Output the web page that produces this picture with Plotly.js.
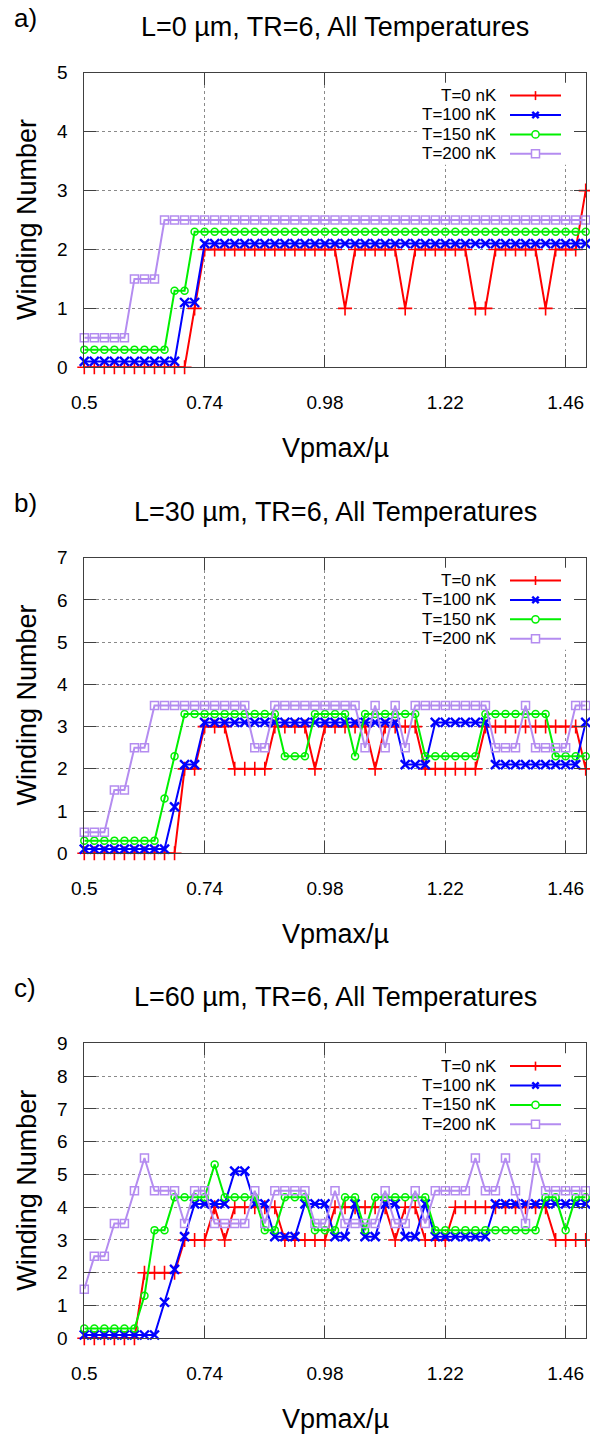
<!DOCTYPE html>
<html>
<head>
<meta charset="utf-8">
<script src="https://cdn.plot.ly/plotly-3.0.1.min.js"></script>
<style>html,body{margin:0;padding:0;background:#fff;}#chart{width:590px;height:1434px;}</style>
</head>
<body>
<div id="chart"></div>
<script>
// ---------- data ----------
const xVals = [0.50,0.52,0.54,0.56,0.58,0.60,0.62,0.64,0.66,0.68,0.70,0.72,0.74,0.76,0.78,0.80,0.82,0.84,0.86,0.88,0.90,0.92,0.94,0.96,0.98,1.00,1.02,1.04,1.06,1.08,1.10,1.12,1.14,1.16,1.18,1.20,1.22,1.24,1.26,1.28,1.30,1.32,1.34,1.36,1.38,1.40,1.42,1.44,1.46,1.48,1.50];
const seriesNames = ["T=0 nK","T=100 nK","T=150 nK","T=200 nK"];
const panelTitles = ["L=0 µm, TR=6, All Temperatures","L=30 µm, TR=6, All Temperatures","L=60 µm, TR=6, All Temperatures"];
const panelLabels = ["a)","b)","c)"];
const xTicks = [0.5,0.74,0.98,1.22,1.46];
const xTickText = ["0.5","0.74","0.98","1.22","1.46"];

// panel a (L=0)
const a_T0   = [0,0,0,0,0,0,0,0,0,0,0,1,2,2,2,2,2,2,2,2,2,2,2,2,2,2,1,2,2,2,2,2,1,2,2,2,2,2,2,1,1,2,2,2,2,2,1,2,2,2,3];
const a_T100 = [0.1,0.1,0.1,0.1,0.1,0.1,0.1,0.1,0.1,0.1,1.1,1.1,2.1,2.1,2.1,2.1,2.1,2.1,2.1,2.1,2.1,2.1,2.1,2.1,2.1,2.1,2.1,2.1,2.1,2.1,2.1,2.1,2.1,2.1,2.1,2.1,2.1,2.1,2.1,2.1,2.1,2.1,2.1,2.1,2.1,2.1,2.1,2.1,2.1,2.1,2.1];
const a_T150 = [0.3,0.3,0.3,0.3,0.3,0.3,0.3,0.3,0.3,1.3,1.3,2.3,2.3,2.3,2.3,2.3,2.3,2.3,2.3,2.3,2.3,2.3,2.3,2.3,2.3,2.3,2.3,2.3,2.3,2.3,2.3,2.3,2.3,2.3,2.3,2.3,2.3,2.3,2.3,2.3,2.3,2.3,2.3,2.3,2.3,2.3,2.3,2.3,2.3,2.3,2.3];
const a_T200 = [0.5,0.5,0.5,0.5,0.5,1.5,1.5,1.5,2.5,2.5,2.5,2.5,2.5,2.5,2.5,2.5,2.5,2.5,2.5,2.5,2.5,2.5,2.5,2.5,2.5,2.5,2.5,2.5,2.5,2.5,2.5,2.5,2.5,2.5,2.5,2.5,2.5,2.5,2.5,2.5,2.5,2.5,2.5,2.5,2.5,2.5,2.5,2.5,2.5,2.5,2.5];

// panel b (L=30)
const b_T0   = [0,0,0,0,0,0,0,0,0,0,2,2,3,3,3,2,2,2,2,3,3,3,3,2,3,3,3,3,3,2,3,3,3,3,2,2,2,2,2,2,3,3,3,3,3,3,3,3,3,3,2];
const b_T100 = [0.1,0.1,0.1,0.1,0.1,0.1,0.1,0.1,0.1,1.1,2.1,2.1,3.1,3.1,3.1,3.1,3.1,3.1,3.1,3.1,3.1,3.1,3.1,3.1,3.1,3.1,3.1,3.1,3.1,3.1,3.1,3.1,2.1,2.1,2.1,3.1,3.1,3.1,3.1,3.1,3.1,2.1,2.1,2.1,2.1,2.1,2.1,2.1,2.1,2.1,3.1];
const b_T150 = [0.3,0.3,0.3,0.3,0.3,0.3,0.3,0.3,1.3,2.3,3.3,3.3,3.3,3.3,3.3,3.3,3.3,3.3,3.3,3.3,2.3,2.3,2.3,3.3,3.3,3.3,3.3,2.3,3.3,3.3,3.3,3.3,3.3,3.3,2.3,2.3,2.3,2.3,2.3,2.3,3.3,3.3,3.3,3.3,3.3,3.3,3.3,2.3,2.3,2.3,2.3];
const b_T200 = [0.5,0.5,0.5,1.5,1.5,2.5,2.5,3.5,3.5,3.5,3.5,3.5,3.5,3.5,3.5,3.5,3.5,2.5,2.5,3.5,3.5,3.5,3.5,3.5,3.5,3.5,3.5,3.5,2.5,3.5,2.5,3.5,2.5,3.5,3.5,3.5,3.5,3.5,3.5,3.5,3.5,2.5,2.5,2.5,3.5,2.5,2.5,2.5,2.5,3.5,3.5];

// panel c (L=60)
const c_T0   = [0,0,0,0,0,0,2,2,2,2,3,3,3,4,3,4,4,4,4,4,3,3,3,3,3,4,4,4,4,4,4,3,4,4,3,3,3,4,4,4,4,4,4,4,4,4,4,3,3,3,3];
const c_T100 = [0.1,0.1,0.1,0.1,0.1,0.1,0.1,0.1,1.1,2.1,3.1,4.1,4.1,4.1,4.1,5.1,5.1,4.1,4.1,3.1,3.1,3.1,4.1,4.1,4.1,3.1,3.1,4.1,3.1,3.1,4.1,4.1,3.1,3.1,4.1,3.1,3.1,3.1,3.1,3.1,3.1,4.1,4.1,4.1,4.1,4.1,4.1,4.1,4.1,4.1,4.1];
const c_T150 = [0.3,0.3,0.3,0.3,0.3,0.3,1.3,3.3,3.3,4.3,4.3,4.3,4.3,5.3,4.3,4.3,4.3,4.3,3.3,3.3,4.3,4.3,4.3,3.3,3.3,3.3,4.3,4.3,3.3,4.3,4.3,4.3,4.3,4.3,4.3,3.3,3.3,3.3,3.3,3.3,3.3,3.3,3.3,3.3,3.3,3.3,4.3,4.3,3.3,4.3,4.3];
const c_T200 = [1.5,2.5,2.5,3.5,3.5,4.5,5.5,4.5,4.5,4.5,3.5,4.5,4.5,3.5,3.5,3.5,3.5,4.5,3.5,4.5,4.5,4.5,4.5,3.5,3.5,4.5,3.5,3.5,3.5,3.5,4.5,3.5,3.5,4.5,3.5,4.5,4.5,4.5,4.5,5.5,4.5,4.5,5.5,4.5,3.5,5.5,4.5,4.5,4.5,4.5,4.5];

const panelSeries = [[a_T0,a_T100,a_T150,a_T200],[b_T0,b_T100,b_T150,b_T200],[c_T0,c_T100,c_T150,c_T200]];
const yMax = [5,7,9];

// ---------- styling ----------
const W = 590, H = 1434;
const FONT = '"Liberation Sans", Arial, sans-serif';
const colors = ['#ff0000','#0000ff','#00f000','#b48cf0'];
const symbols = ['cross-thin-open','x-thin-open','circle-open','square-open'];
const msizes = [10,9,7,8];
const mwidths = [1.6,2.4,1.5,1.5];
const X0 = 84.3, X1 = 585.7;
const panelsPx = [{top:72.8,bot:367.3},{top:557.7,bot:853.3},{top:1043.3,bot:1338.3}];
const fx = p => p / W;
const fy = p => 1 - p / H;

const traces = [];
const layout = {
  width: W, height: H,
  margin: {l:0,r:0,t:0,b:0},
  paper_bgcolor: '#fff', plot_bgcolor: '#fff',
  showlegend: false,
  font: {family: FONT, color: '#000'},
  annotations: [], shapes: []
};

panelsPx.forEach((P, k) => {
  const n = k === 0 ? '' : String(k+1);
  const xa = 'xaxis' + n, ya = 'yaxis' + n;
  layout[xa] = {
    domain: [fx(X0), fx(X1)], anchor: 'y' + n, range: [0.5, 1.5],
    tickvals: xTicks, ticktext: xTickText,
    ticks: 'inside', ticklen: 12, tickwidth: 1, tickcolor: '#404040',
    showline: true, linecolor: '#404040', linewidth: 1, mirror: 'ticks',
    showgrid: true, gridcolor: '#8a8a8a', griddash: 'dot', gridwidth: 1,
    zeroline: false, tickfont: {size: 19, family: FONT, color: '#000'},
    ticklabelstandoff: 18
  };
  const yt = [];
  for (let v = 0; v <= yMax[k]; v++) yt.push(v);
  layout[ya] = {
    domain: [fy(P.bot), fy(P.top)], anchor: 'x' + n, range: [0, yMax[k]],
    tickvals: yt,
    ticks: 'inside', ticklen: 12, tickwidth: 1, tickcolor: '#404040',
    showline: true, linecolor: '#404040', linewidth: 1, mirror: 'ticks',
    showgrid: true, gridcolor: '#8a8a8a', griddash: 'dot', gridwidth: 1,
    zeroline: false, tickfont: {size: 19, family: FONT, color: '#000'},
    ticklabelstandoff: 12
  };
  panelSeries[k].forEach((ys, s) => {
    traces.push({
      type: 'scatter', mode: 'lines+markers', x: xVals, y: ys,
      xaxis: 'x' + n, yaxis: 'y' + n, name: seriesNames[s],
      line: {color: colors[s], width: 2},
      marker: {symbol: symbols[s], size: msizes[s], color: colors[s], line: {color: colors[s], width: mwidths[s]}},
      cliponaxis: false
    });
  });
  // texts
  layout.annotations.push({xref:'paper',yref:'paper',x:fx(12),y:fy(P.top-55),xanchor:'left',yanchor:'middle',text:panelLabels[k],showarrow:false,font:{size:26,family:FONT,color:'#000'}});
  layout.annotations.push({xref:'paper',yref:'paper',x:fx(335),y:fy(P.top-46),xanchor:'center',yanchor:'middle',text:panelTitles[k],showarrow:false,font:{size:27,family:FONT,color:'#000'}});
  layout.annotations.push({xref:'paper',yref:'paper',x:fx(335),y:fy(P.bot+81),xanchor:'center',yanchor:'middle',text:'Vpmax/µ',showarrow:false,font:{size:27,family:FONT,color:'#000'}});
  layout.annotations.push({xref:'paper',yref:'paper',x:fx(27),y:fy((P.top+P.bot)/2),xanchor:'center',yanchor:'middle',textangle:-90,text:'Winding Number',showarrow:false,font:{size:27,family:FONT,color:'#000'}});
  // key box
  layout.shapes.push({type:'rect',xref:'paper',yref:'paper',x0:fx(420),x1:fx(573),y0:fy(P.top+10),y1:fy(P.top+92),fillcolor:'#fff',line:{width:0},layer:'above'});
  seriesNames.forEach((nm, s) => {
    const ry = P.top + 22.8 + 19.4*s;
    layout.annotations.push({xref:'paper',yref:'paper',x:fx(499),y:fy(ry),xanchor:'right',yanchor:'middle',text:nm,showarrow:false,font:{size:17,family:FONT,color:'#000'}});
    layout.shapes.push({type:'line',xref:'paper',yref:'paper',x0:fx(510),x1:fx(561),y0:fy(ry),y1:fy(ry),line:{color:colors[s],width:2},layer:'above'});
    const cx = 535.5, r = 3.6;
    if (s === 0) {
      layout.shapes.push({type:'line',xref:'paper',yref:'paper',x0:fx(cx),x1:fx(cx),y0:fy(ry-4.5),y1:fy(ry+4.5),line:{color:colors[s],width:1.6},layer:'above'});
    } else if (s === 1) {
      layout.shapes.push({type:'line',xref:'paper',yref:'paper',x0:fx(cx-3.2),x1:fx(cx+3.2),y0:fy(ry-3.2),y1:fy(ry+3.2),line:{color:colors[s],width:2.4},layer:'above'});
      layout.shapes.push({type:'line',xref:'paper',yref:'paper',x0:fx(cx-3.2),x1:fx(cx+3.2),y0:fy(ry+3.2),y1:fy(ry-3.2),line:{color:colors[s],width:2.4},layer:'above'});
    } else if (s === 2) {
      layout.shapes.push({type:'circle',xref:'paper',yref:'paper',x0:fx(cx-r),x1:fx(cx+r),y0:fy(ry+r),y1:fy(ry-r),fillcolor:'#fff',line:{color:colors[s],width:1.5},layer:'above'});
    } else {
      layout.shapes.push({type:'rect',xref:'paper',yref:'paper',x0:fx(cx-4),x1:fx(cx+4),y0:fy(ry+4),y1:fy(ry-4),fillcolor:'#fff',line:{color:colors[s],width:1.5},layer:'above'});
    }
  });
});

Plotly.newPlot('chart', traces, layout, {staticPlot: true, displayModeBar: false});
</script>
</body>
</html>
